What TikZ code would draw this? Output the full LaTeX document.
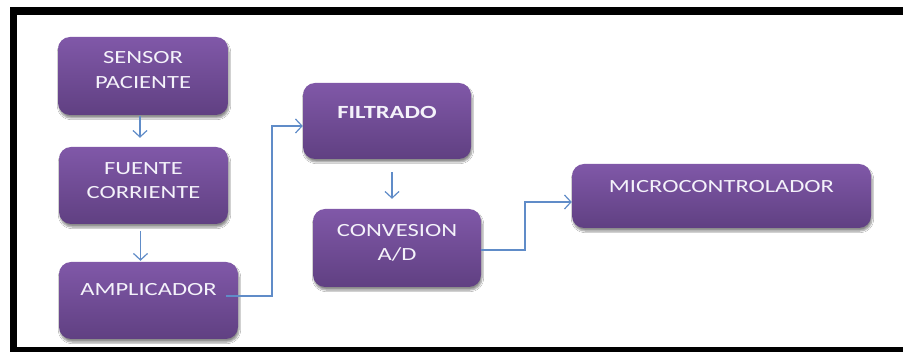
\documentclass[tikz,border=0pt]{standalone}
\usepackage{fontspec}
\newfontfamily\boxfont[FakeStretch=1.32]{Carlito}
\usetikzlibrary{arrows.meta,shadows.blur}
\definecolor{boxtop}{RGB}{128,88,168}
\definecolor{boxbot}{RGB}{96,64,130}
\definecolor{wire}{RGB}{96,140,200}
\definecolor{labelcol}{RGB}{244,242,250}
\tikzset{
  block/.style={rounded corners=12pt, top color=boxtop, bottom color=boxbot,
    draw=none, inner sep=0pt,
    blur shadow={shadow xshift=1pt, shadow yshift=-3pt, shadow blur steps=6, shadow opacity=45}},
  lbl/.style={text=labelcol, font=\boxfont\fontsize{18.6}{24.5}\selectfont, align=center, inner sep=0pt},
  wireline/.style={draw=wire, line width=1.2pt, -{Straight Barb[length=6.5pt,width=14pt]}},
  frame/.style={fill=black, draw=none}
}
\begin{document}
\begin{tikzpicture}[x=1pt,y=-1pt]
  \useasboundingbox (0,0) rectangle (903,352);
  \fill[white] (0,0) rectangle (903,352);
  % outer frame
  \path[frame] (10,7) rectangle (17,352);
  \path[frame] (10,7) rectangle (903,15);
  \path[frame] (10,347) rectangle (903,352);

  % blocks
  \node[block, minimum width=170pt, minimum height=78pt] (sensor) at (143,76) {};
  \node[block, minimum width=169pt, minimum height=77pt] (fuente) at (143.5,185.5) {};
  \node[block, minimum width=179pt, minimum height=77pt] (ampli) at (148.5,300.5) {};
  \node[block, minimum width=168pt, minimum height=76pt] (filt) at (387,121) {};
  \node[block, minimum width=168pt, minimum height=78pt] (conv) at (397,248) {};
  \node[block, minimum width=299pt, minimum height=64pt] (micro) at (721.5,196) {};

  % labels
  \node[lbl] (sensor-t) at (143,70) {SENSOR\\PACIENTE};
  \node[lbl] (fuente-t) at (143.5,180.5) {FUENTE\\CORRIENTE};
  \node[lbl] (ampli-t) at (148.5,289.5) {AMPLICADOR};
  \node[lbl, font=\boxfont\bfseries\fontsize{18.6}{24.5}\selectfont] (filt-t) at (387,112) {FILTRADO};
  \node[lbl] (conv-t) at (397,243) {CONVESION\\A/D};
  \node[lbl] (micro-t) at (721.5,187) {MICROCONTROLADOR};

  % connectors
  \draw[wireline, shorten <=1pt, shorten >=9pt] ([xshift=-3pt]sensor.south) -- ([xshift=-3pt]sensor.south |- fuente.north);
  \draw[wireline, shorten <=7pt, shorten >=1pt] ([xshift=-3pt]fuente.south) -- ([xshift=-8pt]ampli.north);
  \draw[wireline, shorten <=13pt, shorten >=10pt] ([xshift=5pt]filt.south) -- ([xshift=-5pt]conv.north);
  \draw[wireline] ([xshift=-12pt,yshift=4.5pt]ampli.east) -- (272,296) -- (272,126) -- ([yshift=-5pt]filt.west);
  \draw[wireline] ([yshift=-2pt]conv.east) -- (525,250) -- (525,202) -- ([yshift=-6pt]micro.west);
\end{tikzpicture}
\end{document}
